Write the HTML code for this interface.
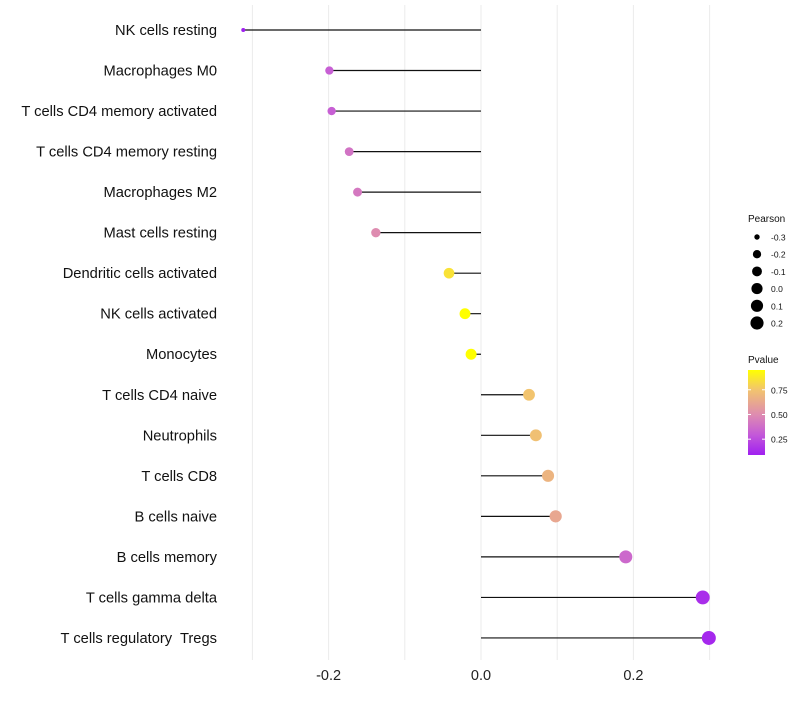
<!DOCTYPE html>
<html><head><meta charset="utf-8"><style>
body{margin:0;background:#fff;font-family:"Liberation Sans",sans-serif}
svg text{font-family:"Liberation Sans",sans-serif;white-space:pre}
</style></head><body>
<svg id="chart" width="800" height="700"></svg>
<script>
const categories=["NK cells resting","Macrophages M0","T cells CD4 memory activated","T cells CD4 memory resting","Macrophages M2","Mast cells resting","Dendritic cells activated","NK cells activated","Monocytes","T cells CD4 naive","Neutrophils","T cells CD8","B cells naive","B cells memory","T cells gamma delta","T cells regulatory\u00a0 Tregs"];
const pearson=[-0.312,-0.199,-0.196,-0.173,-0.162,-0.138,-0.042,-0.021,-0.013,0.063,0.072,0.088,0.098,0.190,0.291,0.299];
const pvalue=[0.09,0.32,0.32,0.40,0.42,0.50,0.85,0.95,0.95,0.75,0.73,0.68,0.62,0.36,0.14,0.12];
const xTicks=[-0.2,0.0,0.2];
const sizeTicks=[-0.3,-0.2,-0.1,0.0,0.1,0.2];
const pTicks=[0.25,0.50,0.75];
const NS="http://www.w3.org/2000/svg";
const svg=document.getElementById('chart');
function mk(t,a,p){const e=document.createElementNS(NS,t);for(const k in a)e.setAttribute(k,a[k]);(p||svg).appendChild(e);return e;}
const x=v=>481+v*762;
const y=i=>30+i*40.53;
const r=v=>2+5*Math.sqrt(Math.max(0,(v+0.312)/0.612));
const stops=[[0.09,[160,32,240]],[0.3,[196,90,216]],[0.5,[222,140,176]],[0.75,[242,196,110]],[0.95,[255,255,0]]];
function col(p){p=Math.max(0.09,Math.min(0.95,p));for(let i=0;i<stops.length-1;i++){const[a,ca]=stops[i],[b,cb]=stops[i+1];if(p<=b){const t=(p-a)/(b-a);return `rgb(${ca.map((c,j)=>Math.round(c+(cb[j]-c)*t)).join(',')})`;}}return 'rgb(255,255,0)';}
[-0.3,-0.2,-0.1,0,0.1,0.2,0.3].forEach(v=>{const g=mk('line',{x1:x(v),x2:x(v),y1:5,y2:660,stroke:'#ebebeb','stroke-width':1});
});
xTicks.forEach(v=>{const t=mk('text',{x:x(v),y:680,'text-anchor':'middle','font-size':14.5,fill:'#222'});t.textContent=v.toFixed(1);
});
categories.forEach((c,i)=>{
const t=mk('text',{x:217,y:y(i)+5,'text-anchor':'end','font-size':14.7,fill:'#111'});t.textContent=c;

const l=mk('line',{x1:x(0),x2:x(pearson[i]),y1:y(i),y2:y(i),stroke:'#111','stroke-width':1.2});

const d=mk('circle',{cx:x(pearson[i]),cy:y(i),r:r(pearson[i]),fill:col(pvalue[i])});

});
const lt=mk('text',{x:748,y:222,'font-size':10,fill:'#111'});lt.textContent='Pearson';

sizeTicks.forEach((v,i)=>{const cy=237+i*17.2;
const c=mk('circle',{cx:757,cy:cy,r:r(v),fill:'#000'});
const t=mk('text',{x:771,y:cy+3.5,'font-size':8.5,fill:'#111'});t.textContent=v.toFixed(1);});
const pt=mk('text',{x:748,y:363,'font-size':10,fill:'#111'});pt.textContent='Pvalue';

const defs=mk('defs',{});const gr=mk('linearGradient',{id:'pg',x1:0,y1:1,x2:0,y2:0},defs);
stops.forEach(s=>mk('stop',{offset:((s[0]-0.09)/0.86),'stop-color':`rgb(${s[1].join(',')})`},gr));
const bar=mk('rect',{x:748,y:370,width:17,height:85,fill:'url(#pg)'});
pTicks.forEach(v=>{const yy=455-(v-0.09)/0.86*85;
mk('line',{x1:748,x2:751,y1:yy,y2:yy,stroke:'#fff'});mk('line',{x1:762,x2:765,y1:yy,y2:yy,stroke:'#fff'});
const t=mk('text',{x:771,y:yy+3.5,'font-size':8.5,fill:'#111'});t.textContent=v.toFixed(2);});
</script>
</body></html>
